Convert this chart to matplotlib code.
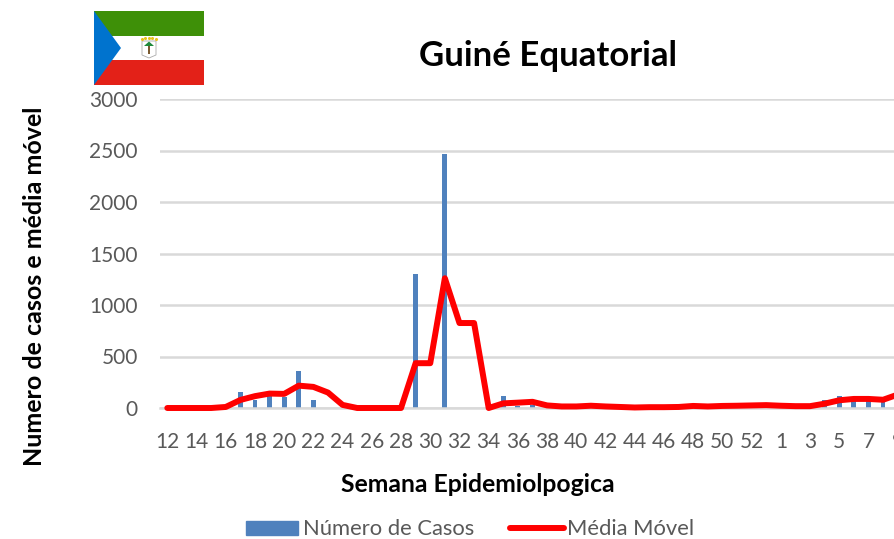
import numpy as np
import matplotlib
matplotlib.use('Agg')
import matplotlib.pyplot as plt
from matplotlib.patches import Polygon, Rectangle

plt.rcParams['font.family'] = ['Lato', 'DejaVu Sans']

# week labels, 53 is in the data but its label gets skipped
weeks = list(range(12, 54)) + list(range(1, 10))
casos = [0, 0, 0, 0, 0, 155, 75, 130, 110, 360, 80, 0, 0, 0, 0, 0, 0,
         1300, 0, 2470, 0, 0, 0, 115, 20, 25, 5, 5, 5, 8, 5, 5, 3, 5, 5,
         8, 10, 10, 8, 10, 12, 10, 8, 8, 8, 80, 120, 90, 85, 70, 130]
media = [0, 0, 0, 0, 10, 78, 115, 140, 137, 217, 205, 150, 30, 0, 0, 0, 0,
         435, 435, 1260, 825, 825, 0, 45, 52, 60, 25, 15, 15, 22, 15, 10, 5,
         8, 8, 10, 20, 15, 20, 22, 25, 28, 22, 18, 18, 42, 75, 88, 88, 80, 130]
yticks = [0, 500, 1000, 1500, 2000, 2500, 3000]

fig = plt.figure(figsize=(8.95, 5.39), dpi=100)
W, H = 895.0, 539.0

# axes runs past the right edge, the original picture is cropped there
ax = fig.add_axes([160 / W, 1 - 408 / H, 745 / W, 309 / H])
x = np.arange(len(weeks))
bars = ax.bar(x, casos, width=0.33, color='#4f81bd', label='Número de Casos', zorder=2)
line, = ax.plot(x, media, color='#ff0000', lw=4.3, solid_joinstyle='round',
                solid_capstyle='round', label='Média Móvel', zorder=3, clip_on=False)

ax.set_xlim(-0.5, len(weeks) - 0.5)
ax.set_ylim(0, 3000)
ax.set_yticks(yticks)
ax.grid(axis='y', color='#d9d9d9', lw=1.8, zorder=0)
ax.set_axisbelow(True)
for s in ['top', 'right', 'left']:
    ax.spines[s].set_visible(False)
ax.spines['bottom'].set_color('#d9d9d9')
ax.spines['bottom'].set_linewidth(1.8)

tick_pos = [i for i, w in enumerate(weeks) if i % 2 == 0]
ax.set_xticks(tick_pos)
ax.set_xticklabels([str(weeks[i]) for i in tick_pos])
ax.tick_params(axis='both', length=0, labelsize=15, labelcolor='#595959')
ax.tick_params(axis='x', pad=17.5)
ax.tick_params(axis='y', pad=16)

fig.text(548 / W, 1 - 56 / H, 'Guiné Equatorial', fontsize=25, fontweight='bold',
         ha='center', va='center', color='black')
fig.text(35 / W, 1 - 286 / H, 'Numero de casos e média móvel', fontsize=18,
         fontweight='bold', rotation=90, ha='center', va='center')
fig.text(478 / W, 1 - 485 / H, 'Semana Epidemiolpogica', fontsize=17.8,
         fontweight='bold', ha='center', va='center')

# legend placed by hand
fig.add_artist(Rectangle((246 / W, 1 - 535 / H), 52 / W, 14 / H,
                         transform=fig.transFigure, color='#4f81bd'))
fig.text(303 / W, 1 - 529 / H, 'Número de Casos', fontsize=15.8, color='#595959',
         ha='left', va='center')
fig.add_artist(plt.Line2D([510 / W, 564 / W], [1 - 528 / H, 1 - 528 / H],
                          transform=fig.transFigure, color='#ff0000', lw=4.3,
                          solid_capstyle='round'))
fig.text(567 / W, 1 - 529 / H, 'Média Móvel', fontsize=15.8, color='#595959',
         ha='left', va='center')

# flag
fl = fig.add_axes([94 / W, 1 - 85 / H, 110 / W, 74 / H])
fl.set_xlim(94, 204)
fl.set_ylim(85, 11)
fl.axis('off')
fl.add_patch(Rectangle((94, 11), 110, 25, color='#3e9008', lw=0))
fl.add_patch(Rectangle((94, 36), 110, 24, color='white', lw=0))
fl.add_patch(Rectangle((94, 60), 110, 25, color='#e32118', lw=0))
fl.add_patch(Polygon([(94, 11), (121, 48), (94, 85)], color='#0073ce', lw=0))
# coat of arms, just a tiny shield with a tree
fl.add_patch(Polygon([(142, 41), (156, 41), (156, 55), (149, 58), (142, 55)],
                     facecolor='white', edgecolor='#aaaaaa', lw=0.6))
fl.add_patch(Rectangle((148, 46), 2, 8, color='#7a5a30', lw=0))
fl.add_patch(Polygon([(144, 46), (149, 41.5), (154, 46)], color='#1e8a3c', lw=0))
fl.plot([142, 145.5, 149, 152.5, 156], [38.5, 38, 38, 38, 38.5], ls='', marker='o',
        ms=1.2, color='#e8c21a')

fig.savefig('out.png', dpi=100)
